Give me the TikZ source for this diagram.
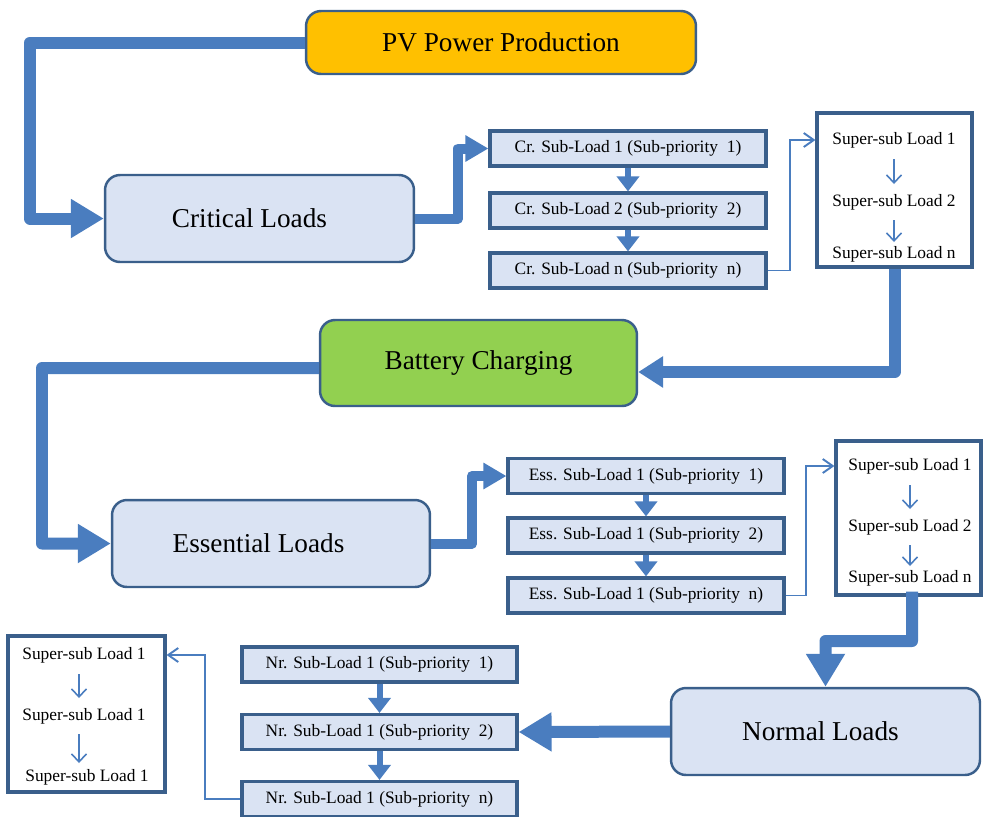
\documentclass[tikz,border=0pt]{standalone}
\usepackage{fontspec}
\setmainfont{Liberation Serif}
\usetikzlibrary{arrows.meta,calc}
\definecolor{arr}{HTML}{4A7DBF}
\definecolor{bord}{HTML}{3A5F8B}
\definecolor{lfill}{HTML}{DAE3F3}
\definecolor{pvc}{HTML}{FFC000}
\definecolor{batc}{HTML}{92D050}
\begin{document}
\begin{tikzpicture}[x=0.02cm,y=-0.02cm,
 bigbox/.style={draw=bord,line width=1.4pt,rounded corners=0.3cm,minimum width=6.18cm,minimum height=1.74cm,font=\fontsize{15.5}{18}\selectfont,inner sep=0pt},
 subbox/.style={draw=bord,line width=1.8pt,fill=lfill,minimum width=5.52cm,minimum height=0.7cm,font=\fontsize{9.9}{12}\selectfont,inner sep=0pt},
 ssbox/.style={draw=bord,line width=1.8pt,fill=white,inner sep=0pt},
 sstext/.style={font=\fontsize{9.9}{11}\selectfont,inner sep=1pt},
 bigarrow/.style={draw=arr,line width=0.24cm,line join=round,-{Triangle[width=0.74cm,length=0.66cm]}},
 batarrow/.style={draw=arr,line width=0.24cm,line join=round,-{Triangle[width=0.6cm,length=0.5cm]}},
 medarrow/.style={draw=arr,line width=0.2cm,line join=round,-{Triangle[width=0.5cm,length=0.46cm]}},
 subarrow/.style={draw=arr,line width=0.12cm,-{Triangle[width=0.44cm,length=0.3cm]}},
 thinarrow/.style={draw=arr,line width=1.1pt,-{Straight Barb[width=0.28cm,length=0.2cm]}},
 ssarrow/.style={draw=arr,line width=0.9pt,-{Straight Barb[width=0.3cm,length=0.16cm]}}
]
\useasboundingbox (0,0) rectangle (984,816);

% main boxes
\node[bigbox,fill=pvc,minimum width=7.8cm,minimum height=1.26cm] (pv) at (501,42.5) {PV Power Production};
\node[bigbox,fill=lfill] (crit) at (259.5,218.5) {Critical Loads\hspace*{0.4cm}};
\node[bigbox,fill=batc,minimum width=6.34cm,minimum height=1.72cm] (bat) at (478.5,363) {Battery Charging};
\node[bigbox,fill=lfill,minimum width=6.36cm] (ess) at (271,543.5) {Essential Loads\hspace*{0.5cm}};
\node[bigbox,fill=lfill] (norm) at (825.5,731.5) {Normal Loads\hspace*{0.2cm}};

% critical sub loads
\node[subbox] (cr1) at (628,148.5) {Cr. Sub-Load 1 (Sub-priority~~1)};
\node[subbox] (cr2) at (628,210.5) {Cr. Sub-Load 2 (Sub-priority~~2)};
\node[subbox] (crn) at (628,270.5) {Cr. Sub-Load n (Sub-priority~~n)};

% essential sub loads
\node[subbox] (es1) at (646,476) {Ess. Sub-Load 1 (Sub-priority~~1)};
\node[subbox] (es2) at (646,535.5) {Ess. Sub-Load 1 (Sub-priority~~2)};
\node[subbox] (esn) at (646,595.5) {Ess. Sub-Load 1 (Sub-priority~~n)};

% normal sub loads
\node[subbox,minimum width=5.5cm] (nr1) at (379.5,664.5) {Nr. Sub-Load 1 (Sub-priority~~1)};
\node[subbox,minimum width=5.5cm] (nr2) at (379.5,732) {Nr. Sub-Load 1 (Sub-priority~~2)};
\node[subbox,minimum width=5.5cm] (nrn) at (379.5,799) {Nr. Sub-Load 1 (Sub-priority~~n)};

% super-sub boxes
\node[ssbox,minimum width=3.1cm,minimum height=3.08cm] (ss1) at (894.5,190) {};
\node[sstext] (ss1a) at (894,140) {Super-sub Load 1};
\node[sstext] (ss1b) at (894,202) {Super-sub Load 2};
\node[sstext] (ss1c) at (894,254) {Super-sub Load n};

\node[ssbox,minimum width=2.9cm,minimum height=3.08cm] (ss2) at (908.5,518) {};
\node[sstext] (ss2a) at (910,466) {Super-sub Load 1};
\node[sstext] (ss2b) at (910,527) {Super-sub Load 2};
\node[sstext] (ss2c) at (910,578) {Super-sub Load n};

\node[ssbox,minimum width=3.14cm,minimum height=3.12cm] (ss3) at (86.5,714) {};
\node[sstext] (ss3a) at (84,655) {Super-sub Load 1};
\node[sstext] (ss3b) at (84,716) {Super-sub Load 1};
\node[sstext] (ss3c) at (87,777) {Super-sub Load 1};

% thick flow arrows
\draw[bigarrow] (pv.west) -- (30,42.5) |- (crit.west);
\draw[medarrow] (crit.east) -- (458,218.5) |- (cr1.west);
\draw[batarrow] (ss1.south) |- ([yshift=-0.18cm]bat.east);
\draw[bigarrow] ([yshift=-0.1cm]bat.west) -- (42,368) |- (ess.west);
\draw[medarrow] (ess.east) -- (472,543.5) |- (es1.west);
\draw[bigarrow] ([xshift=0.07cm,yshift=0.1cm]ss2.south) -- (912,641) -| (norm.north);
\draw[bigarrow] (norm.west) -- (nr2.east);

% sub arrows
\draw[subarrow] (cr1.south) -- (cr2.north);
\draw[subarrow] (cr2.south) -- (crn.north);
\draw[subarrow] (es1.south) -- (es2.north);
\draw[subarrow] (es2.south) -- (esn.north);
\draw[subarrow] (nr1.south) -- (nr2.north);
\draw[subarrow] (nr2.south) -- (nrn.north);

% thin arrows
\draw[thinarrow] (crn.east) -- (790,270.5) |- (ss1.west |- ss1a);
\draw[thinarrow] (esn.east) -- (806,595.5) |- (ss2.west |- ss2a);
\draw[thinarrow] (nrn.west) -- (205,799) |- (ss3.east |- ss3a);

% super-sub inner arrows
\draw[ssarrow] ($(ss1a.south)+(0,9)$) -- ($(ss1b.north)+(0,-8)$);
\draw[ssarrow] ($(ss1b.south)+(0,8)$) -- ($(ss1c.north)+(0,-2)$);
\draw[ssarrow] ($(ss2a.south)+(0,9)$) -- ($(ss2b.north)+(0,-8)$);
\draw[ssarrow] ($(ss2b.south)+(0,8)$) -- ($(ss2c.north)+(0,-2)$);
\draw[ssarrow] ($(ss3a.south)+(-5,9)$) -- ($(ss3b.north)+(-5,-8)$);
\draw[ssarrow] ($(ss3b.south)+(-5,8)$) -- ($(ss3c.north)+(-8,-4)$);
\end{tikzpicture}
\end{document}
